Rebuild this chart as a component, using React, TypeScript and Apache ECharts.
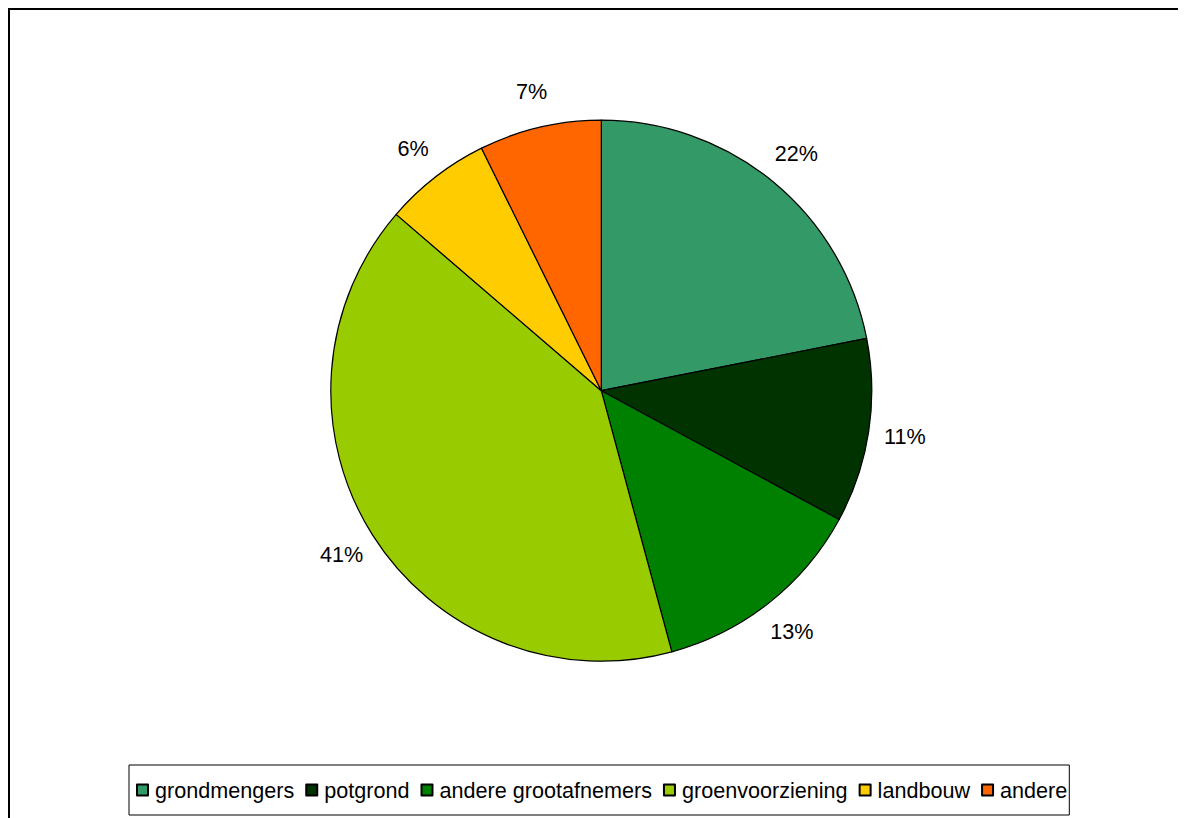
import React, { useEffect, useRef } from "react";
import * as echarts from "echarts";

const categories = [
  "grondmengers",
  "potgrond",
  "andere grootafnemers",
  "groenvoorziening",
  "landbouw",
  "andere",
];
const shares = [21.9, 11.0, 12.9, 40.5, 6.4, 7.3];
const sliceColors = ["#339966", "#003300", "#008000", "#99CC00", "#FFCC00", "#FF6600"];

const FONT = '"Liberation Sans", Arial, sans-serif';

export default function App() {
  const ref = useRef<HTMLDivElement>(null);
  useEffect(() => {
    if (!ref.current) return;
    const chart = echarts.init(ref.current, null, { renderer: "svg" });
    const data = categories.map((name, i) => ({
      name,
      value: shares[i],
      itemStyle: { color: sliceColors[i] },
    }));
    const center = [591.3, 380.7];
    chart.setOption({
      animation: false,
      backgroundColor: "#ffffff",
      legend: {
        data: categories,
        left: 119,
        top: 755,
        orient: "horizontal",
        itemWidth: 11,
        itemHeight: 11,
        itemGap: 11,
        padding: [14, 2, 14, 7],
        borderColor: "#000000",
        borderWidth: 1,
        icon: "rect",
        selectedMode: false,
        textStyle: {
          fontFamily: FONT,
          fontSize: 21.6,
          color: "#000000",
          padding: [0, 0, 0, 2],
        },
      },
      series: [
        {
          type: "pie",
          name: "aandeel",
          center,
          radius: [0, 270.5],
          startAngle: 90,
          clockwise: true,
          silent: true,
          emphasis: { disabled: true },
          itemStyle: { borderColor: "#000000", borderWidth: 1.2 },
          label: { show: false },
          labelLine: { show: false },
          data,
        },
        {
          type: "pie",
          name: "labels",
          center,
          radius: [0, 608],
          startAngle: 90,
          clockwise: true,
          silent: true,
          z: 5,
          percentPrecision: 0,
          emphasis: { disabled: true },
          itemStyle: { color: "rgba(0,0,0,0)", borderWidth: 0 },
          label: {
            show: true,
            position: "inside",
            rotate: 0,
            formatter: "{d}%",
            fontFamily: FONT,
            fontSize: 21.6,
            color: "#000000",
          },
          labelLine: { show: false },
          data: categories.map((name, i) => ({ name, value: shares[i] })),
        },
      ],
    });
    return () => chart.dispose();
  }, []);
  return (
    <div
      style={{
        width: 1178,
        height: 810,
        borderTop: "2px solid #000",
        borderLeft: "2px solid #000",
        boxSizing: "border-box",
        overflow: "hidden",
      }}
    >
      <div ref={ref} style={{ width: 1176, height: 808 }} />
    </div>
  );
}
